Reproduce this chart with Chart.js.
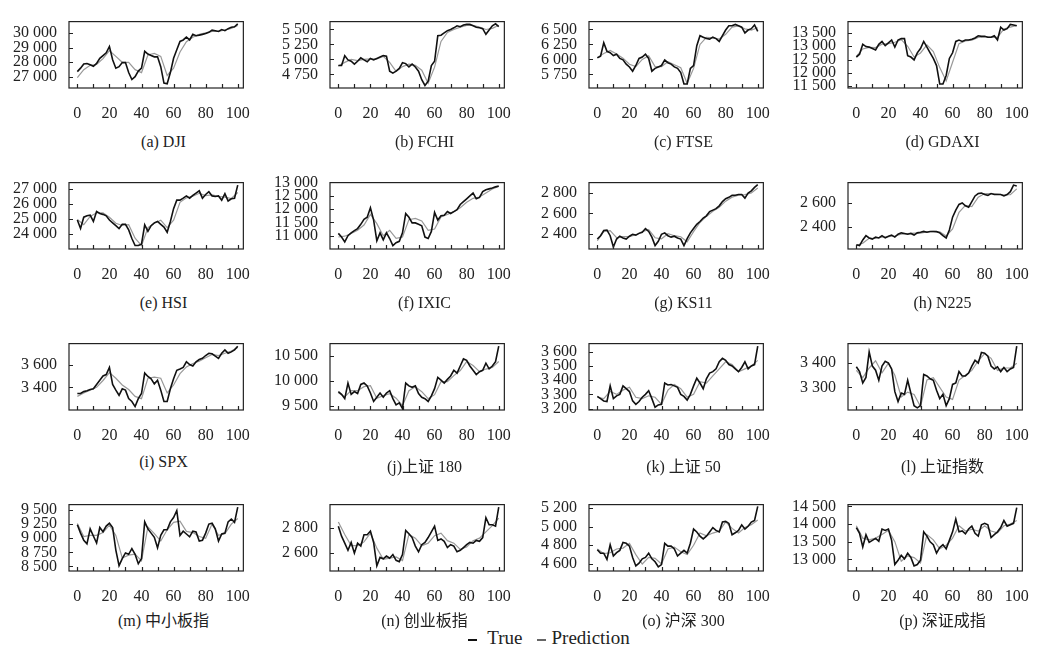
<!DOCTYPE html>
<html>
<head>
<meta charset="utf-8">
<script src="https://cdn.jsdelivr.net/npm/chart.js@4"></script>
<style>
  body { margin: 0; background: #fff; width: 1047px; height: 655px; position: relative; overflow: hidden; }
  .cell { position: absolute; }
  .cap { position: absolute; width: 260px; line-height: 20px; text-align: center; color: #222;
         font: 16px "Liberation Serif", "Noto Sans CJK SC", serif; }
  #legend { position: absolute; left: 0; width: 1098px; top: 627px; line-height: 24px; text-align: center;
            font: 19px "Liberation Serif", serif; color: #222; }
  #legend .sw { display: inline-block; width: 9px; height: 2px; vertical-align: middle; margin: 0 10px 0 0; }
</style>
</head>
<body>
<div id="legend"><span class="sw" style="background:#111"></span>True<span class="sw" style="background:#666;margin-left:14px;margin-right:6px"></span>Prediction</div>
<script>
// x positions of the read-off samples
const stepsTrue = [0,2,4,6,8,10,12,14,16,18,20,22,24,26,28,30,32,34,36,38,40,42,44,46,48,50,52,54,56,58,60,62,64,66,68,70,72,74,76,78,80,82,84,86,88,90,92,94,96,98,100];
const stepsPred = [0,4,8,12,16,20,24,28,32,36,40,44,48,52,56,60,64,68,72,76,80,84,88,92,96,100];
const xLabels = [0,20,40,60,80,100];
const xMarks = [0,10,20,30,40,50,60,70,80,90,100];

const djiTrue = [27365,27600,27880,27920,27830,27730,27920,28270,28460,28650,29080,28170,27600,27700,27980,27980,27300,26830,27020,27400,27600,28750,28560,28460,28370,28370,27700,26580,26540,27300,28270,28850,29420,29520,29710,29520,29900,29810,29850,29900,29960,30040,30190,30150,30100,30230,30150,30290,30380,30420,30620];
const djiPred = [26960,27500,27800,27850,28250,28800,28400,28000,28000,27500,27300,28500,28600,28400,27100,27600,28700,29400,29700,29900,30000,30100,30100,30200,30300,30500];
const djiTicks = [27000,28000,29000,30000];

const fchiTrue = [4898,4898,5063,4992,4969,4921,4969,5026,4992,4960,5016,4992,5016,5040,5063,5054,4803,4770,4803,4850,4945,4930,4874,4921,4874,4803,4660,4565,4637,4898,4969,5396,5405,5443,5481,5500,5528,5562,5547,5576,5585,5585,5562,5538,5528,5514,5419,5490,5562,5595,5547];
const fchiPred = [4890,4950,5000,4980,5000,5010,5010,5050,4950,4800,4880,4920,4900,4820,4600,4870,5300,5450,5500,5540,5570,5570,5540,5500,5520,5570];
const fchiTicks = [4750,5000,5250,5500];

const ftseTrue = [6026,6054,6277,6135,6111,6064,6087,6016,5992,5921,5874,5803,5898,6016,6040,6087,6016,5803,5850,5874,5898,5992,5945,5921,5874,5850,5779,5589,5589,5850,5898,6230,6396,6372,6348,6339,6372,6348,6301,6396,6491,6562,6562,6585,6562,6538,6443,6491,6514,6576,6467];
const ftsePred = [6030,6100,6150,6090,6020,5920,5880,6000,6060,5880,5880,5960,5910,5860,5600,5850,6250,6370,6360,6340,6420,6540,6560,6510,6490,6530];
const ftseTicks = [5750,6000,6250,6500];

const daxTrue = [12596,12702,13074,12989,12968,12915,12862,13074,13181,13021,13128,13234,12968,13234,13287,13287,12649,12596,12489,12755,12915,13181,12968,12755,12543,12277,11585,11585,11904,12543,12755,13181,13234,13181,13234,13234,13266,13309,13394,13372,13372,13340,13340,13394,13234,13713,13606,13660,13819,13798,13766];
const daxPred = [12620,12900,12960,12950,13080,13100,13150,13250,13000,12600,12750,13050,12800,12200,11700,12400,13100,13200,13230,13330,13360,13330,13330,13650,13720,13780];
const daxTicks = [11500,12000,12500,13000,13500];

const hsiTrue = [24913,24343,25102,25197,25235,24818,25482,25349,25292,25197,24913,24723,24533,24343,24628,24628,24249,23679,23205,23205,23300,24590,24154,24533,24723,24818,24628,24438,24097,24818,25672,26241,26241,26374,26526,26374,26564,26715,26867,26374,26620,26810,26526,26488,26526,26241,26677,26184,26336,26374,27247];
const hsiPred = [24950,24600,25150,25400,25400,25100,24700,24550,24600,23700,23200,24400,24700,24900,24400,24900,26100,26400,26500,26700,26550,26600,26500,26450,26350,26750];
const hsiTicks = [24000,25000,26000,27000];

const ixicTrue = [11085,10947,10766,11000,11106,11191,11266,11426,11617,11691,12043,11585,10809,11106,10840,11106,10894,10628,10734,10787,11106,11830,11691,11479,11479,11426,11372,10947,10894,11160,11872,11585,11745,11766,11904,11830,11904,11979,12170,12277,12383,12489,12596,12383,12436,12649,12723,12755,12787,12830,12862];
const ixicPred = [10950,10980,11080,11200,11400,11800,11450,11000,11200,10900,10950,11600,11650,11550,11200,11250,11700,11800,11900,12050,12250,12400,12450,12600,12750,12850];
const ixicTicks = [11000,11500,12000,12500,13000];

const ks11True = [2347,2380,2431,2436,2380,2269,2347,2375,2358,2347,2375,2394,2386,2403,2414,2450,2422,2366,2283,2325,2394,2408,2380,2366,2375,2358,2347,2283,2352,2408,2450,2492,2520,2554,2576,2618,2632,2646,2674,2716,2744,2758,2778,2778,2786,2786,2750,2800,2822,2856,2884];
const ks11Pred = [2330,2420,2430,2360,2370,2370,2390,2420,2440,2360,2350,2400,2380,2370,2320,2420,2510,2570,2620,2660,2720,2760,2780,2785,2800,2850];
const ks11Ticks = [2400,2600,2800];

const n225True = [2246,2239,2287,2323,2304,2294,2311,2304,2323,2304,2318,2328,2311,2335,2347,2342,2335,2342,2328,2347,2352,2359,2352,2359,2359,2357,2347,2323,2304,2371,2480,2540,2588,2600,2576,2564,2612,2660,2680,2684,2672,2665,2680,2672,2672,2672,2660,2672,2696,2752,2745];
const n225Pred = [2240,2260,2300,2300,2310,2315,2320,2335,2340,2345,2345,2355,2360,2355,2320,2380,2520,2580,2570,2650,2680,2680,2675,2670,2670,2720];
const n225Ticks = [2400,2600];

const spxTrue = [3345,3345,3362,3370,3380,3387,3425,3462,3500,3512,3575,3425,3375,3330,3387,3375,3300,3275,3230,3300,3345,3525,3495,3475,3430,3462,3375,3275,3275,3387,3475,3550,3562,3575,3625,3600,3587,3625,3645,3655,3680,3700,3695,3675,3655,3700,3730,3700,3712,3730,3762];
const spxPred = [3320,3350,3375,3400,3460,3530,3480,3420,3380,3320,3300,3480,3490,3480,3350,3420,3520,3580,3610,3630,3660,3690,3680,3700,3720,3750];
const spxTicks = [3400,3600];

const sz180True = [9782,9726,9641,9952,9726,9782,9743,9924,9952,9895,9754,9585,9669,9754,9669,9754,9799,9641,9517,9556,9444,9952,9895,9867,9895,9743,9669,9641,9585,9698,9839,10065,10008,9952,10025,10093,10206,10150,10291,10432,10404,10291,10206,10121,10178,10206,10347,10234,10291,10376,10686];
const sz180Pred = [9760,9680,9800,9800,9880,9900,9650,9700,9740,9650,9500,9800,9880,9780,9640,9720,9980,9980,10100,10200,10380,10300,10180,10230,10260,10380];
const sz180Ticks = [9500,10000,10500];

const sz50True = [3286,3270,3254,3250,3360,3270,3290,3300,3360,3340,3320,3254,3230,3250,3280,3300,3326,3270,3210,3226,3230,3380,3366,3370,3360,3350,3300,3286,3260,3300,3360,3414,3380,3340,3410,3450,3460,3480,3530,3554,3540,3510,3500,3480,3460,3490,3530,3480,3500,3510,3640];
const sz50Pred = [3280,3270,3320,3300,3330,3350,3280,3270,3290,3280,3230,3330,3370,3340,3280,3300,3390,3380,3430,3480,3530,3510,3460,3480,3500,3540];
const sz50Ticks = [3200,3300,3400,3500,3600];

const shTrue = [3385,3365,3318,3341,3447,3388,3371,3329,3388,3408,3400,3376,3282,3241,3276,3271,3329,3276,3224,3215,3224,3353,3347,3335,3329,3288,3253,3271,3224,3253,3312,3318,3365,3347,3347,3359,3388,3412,3400,3444,3441,3429,3388,3376,3385,3365,3382,3365,3376,3382,3471];
const shPred = [3370,3340,3380,3410,3360,3400,3350,3260,3280,3270,3220,3330,3340,3300,3260,3250,3330,3350,3370,3410,3440,3420,3370,3380,3380,3400];
const shTicks = [3300,3400];

const zxbTrue = [9240,9090,8965,8900,9165,9040,8915,9190,9115,9215,9265,9190,8790,8515,8640,8740,8715,8815,8715,8550,8640,9290,9165,9090,9015,8830,9050,9150,9150,9290,9365,9490,9050,9125,9075,9025,9125,9110,8950,8965,9090,9250,9265,9165,8950,9075,9090,9290,9340,9280,9550];
const zxbPred = [9260,9030,9050,9050,9100,9230,9050,8650,8700,8720,8600,9200,9080,8950,9150,9280,9300,9120,9100,9030,9000,9250,9050,9080,9250,9350];
const zxbTicks = [8500,8750,9000,9250,9500];

const cybTrue = [2816,2736,2680,2623,2686,2600,2680,2657,2748,2748,2777,2686,2498,2566,2555,2577,2559,2589,2543,2532,2589,2782,2755,2725,2657,2611,2668,2686,2725,2770,2816,2702,2714,2695,2645,2668,2657,2611,2623,2645,2668,2686,2680,2702,2695,2725,2884,2827,2827,2816,2968];
const cybPred = [2850,2750,2660,2660,2690,2760,2640,2550,2560,2570,2540,2750,2720,2660,2680,2740,2760,2700,2680,2630,2650,2700,2720,2770,2820,2880];
const cybTicks = [2600,2800];

const hs300True = [4752,4715,4715,4648,4806,4685,4721,4745,4830,4821,4791,4670,4579,4609,4655,4670,4715,4655,4624,4570,4594,4821,4791,4791,4761,4685,4715,4745,4715,4821,4973,4942,4897,4867,4897,4942,4988,4958,4942,5048,5055,5033,4912,4933,4958,5018,4973,5003,5048,5064,5215];
const hs300Pred = [4760,4710,4720,4760,4770,4820,4700,4600,4670,4660,4600,4760,4780,4730,4700,4800,4930,4900,4930,4950,5050,4980,4930,4990,5020,5070];
const hs300Ticks = [4600,4800,5000,5200];

const szczTrue = [13898,13738,13352,13697,13481,13537,13593,13513,13858,13818,13858,13537,12855,12975,13112,13015,13176,13055,12815,12855,12975,13778,13657,13497,13417,13176,13336,13417,13296,13537,13778,14139,13778,13802,13722,13858,13938,13738,13657,13978,14018,13978,13617,13697,13778,13898,14099,13938,13978,14018,14460];
const szczPred = [13950,13600,13550,13600,13700,13820,13500,12950,13100,13050,12900,13700,13550,13300,13400,13600,13950,13800,13850,13800,13950,13800,13750,13950,14000,14100];
const szczTicks = [13000,13500,14000,14500];

const titles = ['(a) DJI','(b) FCHI','(c) FTSE','(d) GDAXI','(e) HSI','(f) IXIC','(g) KS11','(h) N225',
  '(i) SPX','(j)上证 180','(k) 上证 50','(l) 上证指数','(m) 中小板指','(n) 创业板指','(o) 沪深 300','(p) 深证成指'];
const trueSeries = [djiTrue,fchiTrue,ftseTrue,daxTrue,hsiTrue,ixicTrue,ks11True,n225True,spxTrue,sz180True,sz50True,shTrue,zxbTrue,cybTrue,hs300True,szczTrue];
const predSeries = [djiPred,fchiPred,ftsePred,daxPred,hsiPred,ixicPred,ks11Pred,n225Pred,spxPred,sz180Pred,sz50Pred,shPred,zxbPred,cybPred,hs300Pred,szczPred];
const yTicks = [djiTicks,fchiTicks,ftseTicks,daxTicks,hsiTicks,ixicTicks,ks11Ticks,n225Ticks,spxTicks,sz180Ticks,sz50Ticks,shTicks,zxbTicks,cybTicks,hs300Ticks,szczTicks];
const yRanges = [[26250,30770],[4522,5632],[5522,6632],[11436,13924],[22975,27416],[10500,12990],[2249,2903],[2210,2773],
  [3200,3785],[9415,10737],[3190,3658],[3206,3481],[8420,9595],[2457,2989],[4525,5234],[12671,14548]];

// layout of the 4x4 grid (plot box positions in px)
const colLeft = [69, 330, 589, 848];
const rowTop = [10, 171, 332, 493];
const capY = [143, 304, 463, 617];
const AXW = 68, PADR = 8, PADT = 10, BOXW = 189, BOXH = 78, XAXH = 30;
const serif = 'Liberation Serif';

const fmt = v => String(v).replace(/\B(?=(\d{3})+(?!\d))/g, ' ');

const framePlugin = {
  id: 'frame',
  afterDraw(chart) {
    const { ctx, chartArea: a, scales: { x, y } } = chart;
    ctx.save();
    ctx.strokeStyle = '#222';
    ctx.lineWidth = 1.2;
    ctx.strokeRect(a.left, a.top, a.right - a.left, a.bottom - a.top);
    ctx.beginPath();
    xMarks.forEach(v => {
      const px = Math.round(x.getPixelForValue(v)) + 0.5;
      ctx.moveTo(px, a.bottom); ctx.lineTo(px, a.bottom - 4);
    });
    y.ticks.forEach(t => {
      const py = Math.round(y.getPixelForValue(t.value)) + 0.5;
      ctx.moveTo(a.left, py); ctx.lineTo(a.left + 4, py);
    });
    ctx.stroke();
    ctx.restore();
  }
};

titles.forEach((title, i) => {
  const r = Math.floor(i / 4), c = i % 4;
  const cv = document.createElement('canvas');
  cv.className = 'cell';
  cv.width = AXW + BOXW + PADR;
  cv.height = PADT + BOXH + XAXH + 2;
  cv.style.left = (colLeft[c] - AXW) + 'px';
  cv.style.top = (rowTop[r] - PADT) + 'px';
  document.body.appendChild(cv);

  const cap = document.createElement('div');
  cap.className = 'cap';
  cap.textContent = title;
  cap.style.left = (colLeft[c] + BOXW / 2 - 130) + 'px';
  cap.style.top = (capY[r] - 10) + 'px';
  document.body.appendChild(cap);

  new Chart(cv.getContext('2d'), {
    type: 'line',
    data: {
      datasets: [
        { label: 'True', data: stepsTrue.map((x, k) => ({ x, y: trueSeries[i][k] })),
          borderColor: '#111', borderWidth: 1.6, pointRadius: 0, tension: 0 },
        { label: 'Prediction', data: stepsPred.map((x, k) => ({ x, y: predSeries[i][k] })),
          borderColor: '#999', borderWidth: 1.2, pointRadius: 0, tension: 0 }
      ]
    },
    options: {
      responsive: false,
      animation: false,
      devicePixelRatio: 1,
      layout: { padding: { top: PADT, right: PADR, left: 0, bottom: 2 } },
      plugins: { legend: { display: false }, tooltip: { enabled: false } },
      scales: {
        x: {
          type: 'linear', min: -5.2, max: 103.5,
          afterBuildTicks: s => { s.ticks = xLabels.map(v => ({ value: v })); },
          afterFit: s => { s.height = XAXH; },
          grid: { display: false, drawTicks: false },
          border: { display: false },
          ticks: { padding: 16, color: '#222', maxRotation: 0, autoSkip: false,
                   font: { family: serif, size: 16 } }
        },
        y: {
          min: yRanges[i][0], max: yRanges[i][1],
          afterBuildTicks: s => { s.ticks = yTicks[i].map(v => ({ value: v })); },
          afterFit: s => { s.width = AXW; },
          grid: { display: false, drawTicks: false },
          border: { display: false },
          ticks: { padding: 12, color: '#222', autoSkip: false, callback: v => fmt(v),
                   font: { family: serif, size: 16 } }
        }
      }
    },
    plugins: [framePlugin]
  });
});
</script>
</body>
</html>
